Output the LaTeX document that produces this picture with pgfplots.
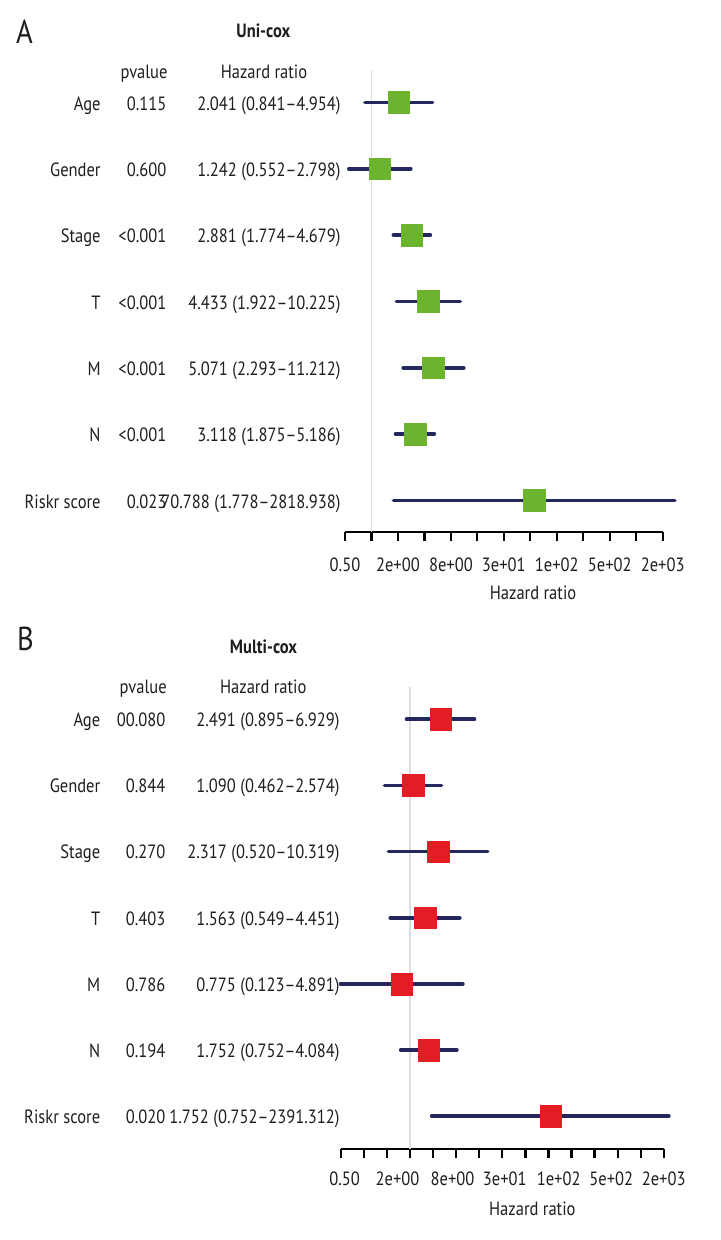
\documentclass[border=0pt]{standalone}
\usepackage{fontspec}
\setmainfont{PT Sans}[FakeStretch=0.86]
\usepackage{pgfplots}
\pgfplotsset{compat=1.18}
\definecolor{ci}{RGB}{36,40,92}
\definecolor{grn}{RGB}{108,180,46}
\definecolor{rd}{RGB}{228,28,36}
\definecolor{refc}{RGB}{222,222,222}
\definecolor{txt}{RGB}{30,30,30}
\newcommand{\tf}{\fontsize{9.6}{11}\selectfont}
\tikzset{
  cil/.style={color=ci, line width=1.8pt, line cap=round},
  refl/.style={color=refc, line width=0.8pt},
}
\begin{document}
\begin{tikzpicture}
\path[use as bounding box] (0,0) rectangle (360pt,620pt);
% ---------------- Panel A ----------------
\node[anchor=base west, font=\fontsize{16.6}{18}\selectfont, text=txt, inner sep=0pt] at (7.85pt,598pt) {A};
\node[anchor=base, font=\tf\bfseries, text=txt, inner sep=0pt] at (131.65pt,601.35pt) {Uni-cox};
\node[anchor=base, font=\tf, text=txt, inner sep=0pt] at (72pt,580.85pt) {pvalue};
\node[anchor=base, font=\tf, text=txt, inner sep=0pt] at (132pt,580.85pt) {Hazard ratio};
\foreach \lab/\pv/\hr/\yy in {
  Age/0.115/{2.041 (0.841–4.954)}/564.85,
  Gender/0.600/{1.242 (0.552–2.798)}/531.7,
  Stage/<0.001/{2.881 (1.774–4.679)}/498.55,
  T/<0.001/{4.433 (1.922–10.225)}/465.4,
  M/<0.001/{5.071 (2.293–11.212)}/432.25,
  N/<0.001/{3.118 (1.875–5.186)}/399.1,
  Riskr score/0.023/{70.788 (1.778–2818.938)}/365.95}{
  \node[anchor=base east, font=\tf, text=txt, inner sep=0pt] at (50.5pt,\yy pt) {\lab};
  \node[anchor=base east, font=\tf, text=txt, inner sep=0pt] at (83.35pt,\yy pt) {\pv};
  \node[anchor=base east, font=\tf, text=txt, inner sep=0pt] at (170.5pt,\yy pt) {\hr};
}
\begin{axis}[
  scale only axis, clip=false, xmode=log, log basis x=2,
  axis x line*=bottom, axis y line=none, ytick=\empty,
  enlargelimits=false,
  axis line style={black, line width=1.1pt},
  tick align=outside, major tick length=4.6pt,
  major tick style={black, line width=1.1pt},
  ticklabel style={font=\tf, text=txt},
  xlabel={Hazard ratio},
  at={(172.5pt,354pt)}, anchor=south west,
  width=158.85pt, height=231pt,
  xmin=0.5, xmax=2048, ymin=0.525, ymax=7.49,
  xtick={0.5,1,2,4,8,16,32,64,128,256,512,1024,2048},
  xticklabels={0.50,,2e+00,,8e+00,,3e+01,,1e+02,,5e+02,,2e+03},
  xticklabel style={anchor=base, yshift=-15.25pt},
  xlabel style={font=\tf, text=txt, at={(axis description cs:0.592,0)}, anchor=base, yshift=-33.65pt},
]
\addplot[refl] coordinates {(1,0.525) (1,7.49)};
\addplot[cil] coordinates {(0.841,7) (4.954,7)};
\addplot[cil] coordinates {(0.552,6) (2.798,6)};
\addplot[cil] coordinates {(1.774,5) (4.679,5)};
\addplot[cil] coordinates {(1.922,4) (10.225,4)};
\addplot[cil] coordinates {(2.293,3) (11.212,3)};
\addplot[cil] coordinates {(1.875,2) (5.186,2)};
\addplot[cil] coordinates {(1.778,1) (2818.938,1)};
\addplot[only marks, color=grn, mark=square*, mark size=5.4pt,
  mark options={solid, draw=grn, fill=grn, line width=0.2pt, rounded corners=0.8pt}]
  coordinates {(2.041,7) (1.242,6) (2.881,5) (4.433,4) (5.071,3) (3.118,2) (70.788,1)};
\end{axis}
% ---------------- Panel B ----------------
\node[anchor=base west, font=\fontsize{16.6}{18}\selectfont, text=txt, inner sep=0pt] at (8.35pt,294.5pt) {B};
\node[anchor=base, font=\tf\bfseries, text=txt, inner sep=0pt] at (131.75pt,293.35pt) {Multi-cox};
\node[anchor=base, font=\tf, text=txt, inner sep=0pt] at (71.6pt,273.35pt) {pvalue};
\node[anchor=base, font=\tf, text=txt, inner sep=0pt] at (131.65pt,273.35pt) {Hazard ratio};
\foreach \lab/\pv/\hr/\yy in {
  Age/00.080/{2.491 (0.895–6.929)}/256.65,
  Gender/0.844/{1.090 (0.462–2.574)}/223.575,
  Stage/0.270/{2.317 (0.520–10.319)}/190.5,
  T/0.403/{1.563 (0.549–4.451)}/157.425,
  M/0.786/{0.775 (0.123–4.891)}/124.35,
  N/0.194/{1.752 (0.752–4.084)}/91.275,
  Riskr score/0.020/{1.752 (0.752–2391.312)}/58.2}{
  \node[anchor=base east, font=\tf, text=txt, inner sep=0pt] at (50.3pt,\yy pt) {\lab};
  \node[anchor=base east, font=\tf, text=txt, inner sep=0pt] at (82.85pt,\yy pt) {\pv};
  \node[anchor=base east, font=\tf, text=txt, inner sep=0pt] at (170pt,\yy pt) {\hr};
}
\begin{axis}[
  scale only axis, clip=false, xmode=log, log basis x=2,
  axis x line*=bottom, axis y line=none, ytick=\empty,
  enlargelimits=false,
  axis line style={black, line width=1.1pt},
  tick align=outside, major tick length=4.5pt,
  major tick style={black, line width=1.1pt},
  ticklabel style={font=\tf, text=txt},
  xlabel={Hazard ratio},
  at={(170.5pt,45.35pt)}, anchor=south west,
  width=161.35pt, height=231.3pt,
  xmin=0.125, xmax=2048, ymin=0.5, ymax=7.493,
  xtick={0.125,0.25,0.5,1,2,4,8,16,32,64,128,256,512,1024,2048},
  xticklabels={},
  extra x ticks={0.1396,0.6834,3.574,17.22,87.1,423.7,2048},
  extra x tick labels={0.50,2e+00,8e+00,3e+01,1e+02,5e+02,2e+03},
  extra x tick style={major tick style={draw=none}},
  xticklabel style={anchor=base, yshift=-13.35pt},
  xlabel style={font=\tf, text=txt, at={(axis description cs:0.593,0)}, anchor=base, yshift=-32.85pt},
]
\addplot[refl] coordinates {(1,0.5) (1,7.493)};
\addplot[cil] coordinates {(0.895,7) (6.929,7)};
\addplot[cil] coordinates {(0.462,6) (2.574,6)};
\addplot[cil] coordinates {(0.520,5) (10.319,5)};
\addplot[cil] coordinates {(0.549,4) (4.451,4)};
\addplot[cil] coordinates {(0.123,3) (4.891,3)};
\addplot[cil] coordinates {(0.752,2) (4.084,2)};
\addplot[cil] coordinates {(1.91,1) (2391.312,1)};
\addplot[only marks, color=rd, mark=square*, mark size=5.4pt,
  mark options={solid, draw=rd, fill=rd, line width=0.2pt, rounded corners=0.8pt}]
  coordinates {(2.491,7) (1.090,6) (2.317,5) (1.563,4) (0.775,3) (1.752,2) (68.4,1)};
\end{axis}
\end{tikzpicture}
\end{document}
